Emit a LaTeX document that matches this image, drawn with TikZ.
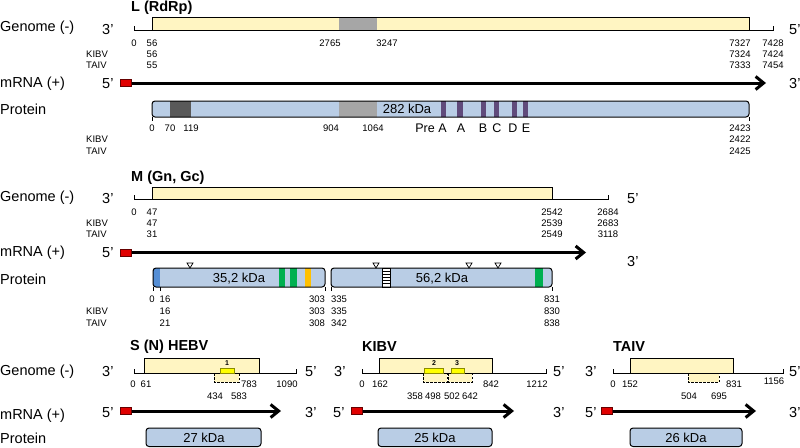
\documentclass[tikz,border=0pt]{standalone}
\usepackage{fontspec}
\setmainfont{Liberation Sans}
\usetikzlibrary{arrows.meta}
\definecolor{gyel}{HTML}{FFF5C2}
\definecolor{ggray}{HTML}{A6A6A6}
\definecolor{dgray}{HTML}{595959}
\definecolor{pblue}{HTML}{B9CDE5}
\definecolor{purp}{HTML}{604A7B}
\definecolor{dblue}{HTML}{558ED5}
\definecolor{grn}{HTML}{00B050}
\definecolor{orng}{HTML}{FFC000}
\definecolor{rred}{HTML}{E00000}
\definecolor{yel}{HTML}{FFFF00}
\definecolor{yelb}{HTML}{8C8C00}
\tikzset{
  lbl/.style={font=\fontsize{14.5}{16}\selectfont, inner sep=0, anchor=west},
  ttl/.style={font=\bfseries\fontsize{14.5}{16}\selectfont, inner sep=0, anchor=west},
  num/.style={font=\fontsize{9.5}{11}\selectfont, inner sep=0},
  kda/.style={font=\fontsize{13}{15}\selectfont, inner sep=0},
  motif/.style={font=\fontsize{12.5}{14}\selectfont, inner sep=0},
  tinylbl/.style={font=\bfseries\fontsize{7}{8}\selectfont, inner sep=0},
  gline/.style={line width=0.8pt},
  brd/.style={draw, line width=0.8pt},
  pbrd/.style={draw, line width=1pt, rounded corners=3pt},
  mrna/.style={line width=3pt, -{Straight Barb[length=8pt,width=13pt]}},
  redbox/.style={draw=black!60!red, fill=rred, line width=0.6pt, inner sep=0, minimum width=11pt, minimum height=7pt, anchor=west},
  dbox/.style={draw, fill=gyel, line width=0.8pt, dash pattern=on 2.5pt off 1.5pt},
  ybox/.style={draw=yelb, fill=yel, line width=0.6pt},
  tri/.style={draw, fill=white, line width=0.7pt},
}
\begin{document}
\begin{tikzpicture}[x=1pt,y=-1pt]
\useasboundingbox (0,0) rectangle (800,447);
% ================= L =================
\node[ttl] (tL) at (131,8) {L (RdRp)};
\node[lbl] (gL) at (0,28) {Genome (-)};
\node[lbl] (g3L) at (102,30) {3’};
\draw[gline] (134,26) -- (134,30) -- (773,30) -- (773,26);
\fill[gyel] (152,17) rectangle (749,30);
\fill[ggray] (339,17) rectangle (377,30);
\draw[brd] (152,17) rectangle (749,30);
\node[lbl] (g5L) at (789,30) {5’};
\node[num] (nL0) at (134,43) {0};
\node[num] (nL1) at (152,43) {56};
\node[num] (nL2) at (330,43) {2765};
\node[num] (nL3) at (387,43) {3247};
\node[num] (nL4) at (740,43) {7327};
\node[num] (nL5) at (773,43) {7428};
\node[num, anchor=west] (kL) at (86,54) {KIBV};
\node[num] (nL6) at (152,54) {56};
\node[num] (nL7) at (740,54) {7324};
\node[num] (nL8) at (773,54) {7424};
\node[num, anchor=west] (aL) at (86,65) {TAIV};
\node[num] (nL9) at (152,65) {55};
\node[num] (nL10) at (740,65) {7333};
\node[num] (nL11) at (773,65) {7454};
% mRNA
\node[lbl] (mL) at (0,84) {mRNA (+)};
\node[lbl] (m5L) at (102,84) {5’};
\node[redbox] (rL) at (120,83) {};
\coordinate (eL) at (766,83);
\draw[mrna] (rL.east) -- (eL);
\node[lbl] (m3L) at (789,84) {3’};
% protein
\node[lbl] (pL) at (0,109) {Protein};
\begin{scope}
\clip[rounded corners=3pt] (152,101) rectangle (749,117);
\fill[pblue] (152,101) rectangle (749,117);
\fill[dgray] (170,100) rectangle (191,118);
\fill[ggray] (339,100) rectangle (377,118);
\foreach \a/\b in {441/446,457/463,481/486,494/499,512/517,523/528}
  \fill[purp] (\a,100) rectangle (\b,118);
\end{scope}
\draw[pbrd] (152,101) rectangle (749,117);
\draw[gline] (152,117) -- (152,121) (749,117) -- (749,121);
\node[kda] (kdL) at (407,109) {282 kDa};
\node[motif] (mo1) at (431,128) {Pre A};
\node[motif] (mo2) at (461,128) {A};
\node[motif] (mo3) at (483,128) {B};
\node[motif] (mo4) at (497,128) {C};
\node[motif] (mo5) at (513,128) {D};
\node[motif] (mo6) at (526,128) {E};
\node[num] (pL0) at (152,128) {0};
\node[num] (pL1) at (170,128) {70};
\node[num] (pL2) at (191,128) {119};
\node[num] (pL3) at (331,128) {904};
\node[num] (pL4) at (373,128) {1064};
\node[num] (pL5) at (740,128) {2423};
\node[num, anchor=west] (kL2) at (86,139.5) {KIBV};
\node[num] (pL6) at (740,139.5) {2422};
\node[num, anchor=west] (aL2) at (86,151) {TAIV};
\node[num] (pL7) at (740,151) {2425};
% ================= M =================
\node[ttl] (tM) at (131,178) {M (Gn, Gc)};
\node[lbl] (gM) at (0,198) {Genome (-)};
\node[lbl] (g3M) at (102,199) {3’};
\draw[gline] (134,195) -- (134,199) -- (608,199) -- (608,195);
\draw[brd, fill=gyel] (152,187) rectangle (552,199);
\node[lbl] (g5M) at (627,199) {5’};
\node[num] (nM0) at (134,212) {0};
\node[num] (nM1) at (152,212) {47};
\node[num] (nM2) at (552,212) {2542};
\node[num] (nM3) at (608,212) {2684};
\node[num, anchor=west] (kM) at (86,223) {KIBV};
\node[num] (nM4) at (152,223) {47};
\node[num] (nM5) at (552,223) {2539};
\node[num] (nM6) at (608,223) {2683};
\node[num, anchor=west] (aM) at (86,234) {TAIV};
\node[num] (nM7) at (152,234) {31};
\node[num] (nM8) at (552,234) {2549};
\node[num] (nM9) at (608,234) {3118};
% mRNA
\node[lbl] (mM) at (0,253) {mRNA (+)};
\node[lbl] (m5M) at (102,253) {5’};
\node[redbox] (rM) at (120,252.5) {};
\coordinate (eM) at (586,252.5);
\draw[mrna] (rM.east) -- (eM);
\node[lbl] (m3M) at (627,262) {3’};
% protein
\node[lbl] (pM) at (0,279) {Protein};
\begin{scope}
\clip[rounded corners=3pt] (153,268) rectangle (325,287);
\fill[pblue] (153,268) rectangle (325,287);
\fill[dblue] (152,267) rectangle (160,288);
\fill[grn] (279,267) rectangle (285,288);
\fill[grn] (290,267) rectangle (297,288);
\fill[orng] (305,267) rectangle (311,288);
\end{scope}
\draw[pbrd] (153,268) rectangle (325,287);
\begin{scope}
\clip[rounded corners=3pt] (331,268) rectangle (552,287);
\fill[pblue] (331,268) rectangle (552,287);
\fill[grn] (535,267) rectangle (543,288);
\end{scope}
\draw[line width=0.7pt, fill=white] (382,268) rectangle (390,287);
\foreach \yy in {271,274,277,280,283}
  \draw[line width=0.6pt] (382,\yy) -- (390,\yy);
\draw[pbrd] (331,268) rectangle (552,287);
\foreach \xx in {190,376,469,498}
  \draw[tri] (\xx-3,263) -- (\xx+3,263) -- (\xx,268) -- cycle;
\draw[gline] (153,287) -- (153,291) (160,287) -- (160,291) (325,287) -- (325,291) (331,287) -- (331,291) (552,287) -- (552,291);
\node[kda] (kdM1) at (239,279) {35,2 kDa};
\node[kda] (kdM2) at (442,279) {56,2 kDa};
\node[num] (pM0) at (152,299) {0};
\node[num] (pM1) at (165,299) {16};
\node[num] (pM2) at (317,299) {303};
\node[num] (pM3) at (339,299) {335};
\node[num] (pM4) at (552,299) {831};
\node[num, anchor=west] (kM2) at (86,311) {KIBV};
\node[num] (pM5) at (165,311) {16};
\node[num] (pM6) at (317,311) {303};
\node[num] (pM7) at (339,311) {335};
\node[num] (pM8) at (552,311) {830};
\node[num, anchor=west] (aM2) at (86,323) {TAIV};
\node[num] (pM9) at (165,323) {21};
\node[num] (pM10) at (317,323) {308};
\node[num] (pM11) at (339,323) {342};
\node[num] (pM12) at (552,323) {838};
% ================= S =================
\node[ttl] (tS1) at (130,347) {S (N) HEBV};
\node[ttl] (tS2) at (362,347) {KIBV};
\node[ttl] (tS3) at (613,347) {TAIV};
\node[lbl] (gS) at (0,372) {Genome (-)};
\node[lbl] (mS) at (0,416) {mRNA (+)};
\node[lbl] (pS) at (0,438) {Protein};
% HEBV genome
\node[lbl] (g3S1) at (102,372) {3’};
\draw[dbox] (214,373) rectangle (239,382);
\draw[brd, fill=gyel] (144,358) rectangle (259,373);
\draw[gline] (134,369) -- (134,373) -- (296,373) -- (296,369);
\draw[ybox] (220,368) rectangle (234,373);
\node[tinylbl] (y1) at (227,363) {1};
\node[lbl] (g5S1) at (305,372) {5’};
\node[num] (s10) at (133,384) {0};
\node[num] (s11) at (146,384) {61};
\node[num] (s12) at (249,384) {783};
\node[num] (s13) at (287,384) {1090};
\node[num] (s14) at (215,396) {434};
\node[num] (s15) at (239,396) {583};
% KIBV genome
\node[lbl] (g3S2) at (334,372) {3’};
\draw[dbox] (423,373) rectangle (447,382);
\draw[dbox] (448,373) rectangle (472,382);
\draw[brd, fill=gyel] (379,358) rectangle (492,373);
\draw[gline] (362,369) -- (362,373) -- (546,373) -- (546,369);
\draw[ybox] (424,368) rectangle (443,373);
\draw[ybox] (451,368) rectangle (464,373);
\node[tinylbl] (y2) at (434,363) {2};
\node[tinylbl] (y3) at (457,363) {3};
\node[lbl] (g5S2) at (553,372) {5’};
\node[num] (s20) at (362,384) {0};
\node[num] (s21) at (380,384) {162};
\node[num] (s22) at (491,384) {842};
\node[num] (s23) at (537,384) {1212};
\node[num] (s24) at (415,396) {358};
\node[num] (s25) at (433,396) {498};
\node[num] (s26) at (452,396) {502};
\node[num] (s27) at (470,396) {642};
% TAIV genome
\node[lbl] (g3S3) at (585,372) {3’};
\draw[dbox] (688,373) rectangle (719,382);
\draw[brd, fill=gyel] (630,358) rectangle (733,373);
\draw[gline] (613,369) -- (613,373) -- (783,373) -- (783,369);
\node[lbl] (g5S3) at (789,372) {5’};
\node[num] (s30) at (613,384) {0};
\node[num] (s31) at (630,384) {152};
\node[num] (s32) at (734,384) {831};
\node[num] (s33) at (774,381) {1156};
\node[num] (s34) at (689,396) {504};
\node[num] (s35) at (719,396) {695};
% mRNAs
\node[lbl] (m5S1) at (102,413) {5’};
\node[redbox] (rS1) at (120,411) {};
\coordinate (eS1) at (281,411);
\draw[mrna] (rS1.east) -- (eS1);
\node[lbl] (m3S1) at (305,413) {3’};
\node[lbl] (m5S2) at (333,413) {5’};
\node[redbox] (rS2) at (351,411) {};
\coordinate (eS2) at (514,411);
\draw[mrna] (rS2.east) -- (eS2);
\node[lbl] (m3S2) at (553,413) {3’};
\node[lbl] (m5S3) at (585,413) {5’};
\node[redbox] (rS3) at (601,411) {};
\coordinate (eS3) at (756,411);
\draw[mrna] (rS3.east) -- (eS3);
\node[lbl] (m3S3) at (789,413) {3’};
% proteins
\draw[pbrd, fill=pblue] (146,428) rectangle (261,446.5);
\draw[pbrd, fill=pblue] (378,428) rectangle (492,446.5);
\draw[pbrd, fill=pblue] (630,428) rectangle (742,446.5);
\node[kda] (kS1) at (204,437.5) {27 kDa};
\node[kda] (kS2) at (435,437.5) {25 kDa};
\node[kda] (kS3) at (686,437.5) {26 kDa};
\end{tikzpicture}
\end{document}
